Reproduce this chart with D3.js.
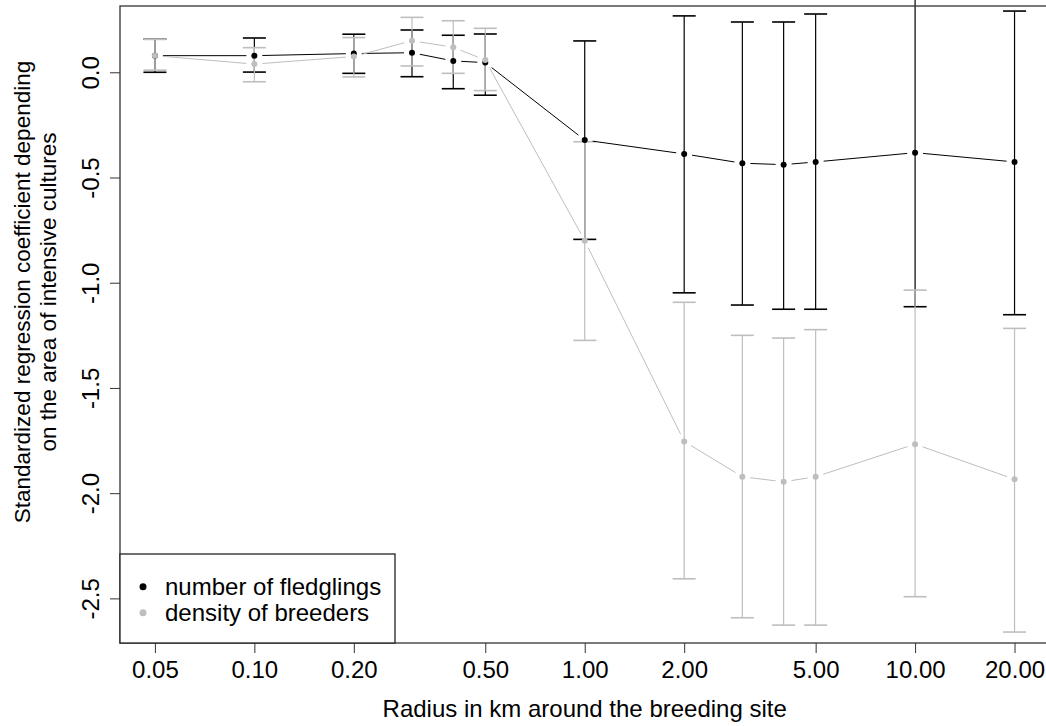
<!DOCTYPE html>
<html>
<head>
<meta charset="utf-8">
<script src="https://cdn.jsdelivr.net/npm/d3@7"></script>
<style>
  html, body { margin: 0; padding: 0; background: #fff; }
  svg { display: block; font-family: "Liberation Sans", Arial, sans-serif; }
</style>
</head>
<body>
<svg id="chart" width="1046" height="726"></svg>
<script>
// ---- data ----
const radius = [0.05, 0.1, 0.2, 0.3, 0.4, 0.5, 1, 2, 3, 4, 5, 10, 20];
const fledgEst  = [0.079, 0.079, 0.089, 0.093, 0.054, 0.046, -0.322, -0.388, -0.432, -0.439, -0.426, -0.382, -0.426];
const fledgLow  = [0.000, 0.001, -0.005, -0.021, -0.078, -0.109, -0.794, -1.048, -1.106, -1.126, -1.126, -1.114, -1.152];
const fledgHigh = [0.157, 0.163, 0.181, 0.201, 0.176, 0.182, 0.149, 0.268, 0.239, 0.239, 0.277, 0.360, 0.291];
const densEst   = [0.079, 0.039, 0.075, 0.150, 0.119, 0.058, -0.800, -1.754, -1.922, -1.946, -1.922, -1.767, -1.934];
const densLow   = [0.010, -0.045, -0.022, 0.030, -0.005, -0.087, -1.274, -2.407, -2.592, -2.627, -2.627, -2.492, -2.660];
const densHigh  = [0.157, 0.117, 0.165, 0.261, 0.245, 0.209, -0.330, -1.093, -1.250, -1.263, -1.223, -1.035, -1.217];
const xTicks = [0.05, 0.1, 0.2, 0.5, 1, 2, 5, 10, 20];
const yTicks = [0, -0.5, -1, -1.5, -2, -2.5];
const seriesNames = ["number of fledglings", "density of breeders"];
const seriesColors = ["#000000", "#bebebe"];

// ---- layout ----
const svg = d3.select("#chart");
const pL = 120, pR = 1049.4, pT = 6, pB = 643;
const x = d3.scaleLog().domain([0.0392, 25.5]).range([pL, pR]);
const y = d3.scaleLinear().domain([-2.712, 0.315]).range([pB, pT]);
const FS = 24;

const series = [
  { name: seriesNames[0], color: seriesColors[0], est: fledgEst, lo: fledgLow, hi: fledgHigh },
  { name: seriesNames[1], color: seriesColors[1], est: densEst, lo: densLow, hi: densHigh }
];

const capHalf = 11.5;
// error bars (black first, gray over)
series.forEach(s => {
  const g = svg.append("g").attr("stroke", s.color).attr("stroke-width", 1.2).attr("fill", "none");
  radius.forEach((r, i) => {
    const cx = x(r);
    g.append("line").attr("x1", cx).attr("x2", cx).attr("y1", y(s.lo[i])).attr("y2", y(s.hi[i]));
    g.append("line").attr("x1", cx - capHalf).attr("x2", cx + capHalf).attr("y1", y(s.lo[i])).attr("y2", y(s.lo[i])).attr("stroke-width", 1.6);
    g.append("line").attr("x1", cx - capHalf).attr("x2", cx + capHalf).attr("y1", y(s.hi[i])).attr("y2", y(s.hi[i])).attr("stroke-width", 1.6);
  });
});

// connecting lines with gaps (type = "b")
const gap = 8;
series.forEach(s => {
  const g = svg.append("g").attr("stroke", s.color).attr("stroke-width", 1).attr("fill", "none");
  for (let i = 0; i < radius.length - 1; i++) {
    const x0 = x(radius[i]), y0 = y(s.est[i]);
    const x1 = x(radius[i + 1]), y1 = y(s.est[i + 1]);
    const dx = x1 - x0, dy = y1 - y0, L = Math.hypot(dx, dy);
    if (L <= 2 * gap) continue;
    const ux = dx / L, uy = dy / L;
    g.append("line")
      .attr("x1", x0 + ux * gap).attr("y1", y0 + uy * gap)
      .attr("x2", x1 - ux * gap).attr("y2", y1 - uy * gap);
  }
});

// points
series.forEach(s => {
  svg.append("g").selectAll("circle").data(radius).join("circle")
    .attr("cx", d => x(d)).attr("cy", (d, i) => y(s.est[i]))
    .attr("r", 3).attr("fill", s.color);
});

// axes
const xAxis = svg.append("g").attr("transform", `translate(0,${pB})`)
  .call(d3.axisBottom(x).tickValues(xTicks).tickFormat(d => d.toFixed(2)).tickSize(10).tickPadding(8));
xAxis.select(".domain").remove();
xAxis.selectAll("line").attr("stroke", "#333");
xAxis.selectAll("text").attr("font-size", FS).attr("font-family", "Liberation Sans, Arial, sans-serif").attr("fill", "#000");

const yAxis = svg.append("g").attr("transform", `translate(${pL},0)`)
  .call(d3.axisLeft(y).tickValues(yTicks).tickFormat(d => d.toFixed(1)).tickSize(10));
yAxis.select(".domain").remove();
yAxis.selectAll("line").attr("stroke", "#333");
yAxis.selectAll("text")
  .attr("font-size", FS).attr("font-family", "Liberation Sans, Arial, sans-serif").attr("fill", "#000")
  .attr("transform", "rotate(-90)")
  .attr("x", 0).attr("y", -21.5).attr("dy", null)
  .attr("text-anchor", "middle");

// plot box
svg.append("rect").attr("x", pL).attr("y", pT)
  .attr("width", pR - pL).attr("height", pB - pT)
  .attr("fill", "none").attr("stroke", "#333").attr("stroke-width", 1.3);

// axis titles
svg.append("text").attr("x", (pL + pR) / 2).attr("y", 717)
  .attr("text-anchor", "middle").attr("font-size", FS)
  .text("Radius in km around the breeding site");

const yl = svg.append("text").attr("transform", `translate(0,292) rotate(-90)`)
  .attr("text-anchor", "middle").attr("font-size", 22.5);
yl.append("tspan").attr("x", 0).attr("y", 30).text("Standardized regression coefficient depending");
yl.append("tspan").attr("x", 0).attr("y", 56).text("on the area of intensive cultures");

// legend
const lg = svg.append("g");
lg.append("rect").attr("x", pL).attr("y", 554).attr("width", 275).attr("height", pB - 554)
  .attr("fill", "#fff").attr("stroke", "#222").attr("stroke-width", 1.3);
series.forEach((s, i) => {
  const cy = 586.7 + i * 26;
  lg.append("circle").attr("cx", 143).attr("cy", cy).attr("r", 3.5).attr("fill", s.color);
  lg.append("text").attr("x", 165).attr("y", cy + 8).attr("font-size", FS).text(s.name);
});
</script>
</body>
</html>
